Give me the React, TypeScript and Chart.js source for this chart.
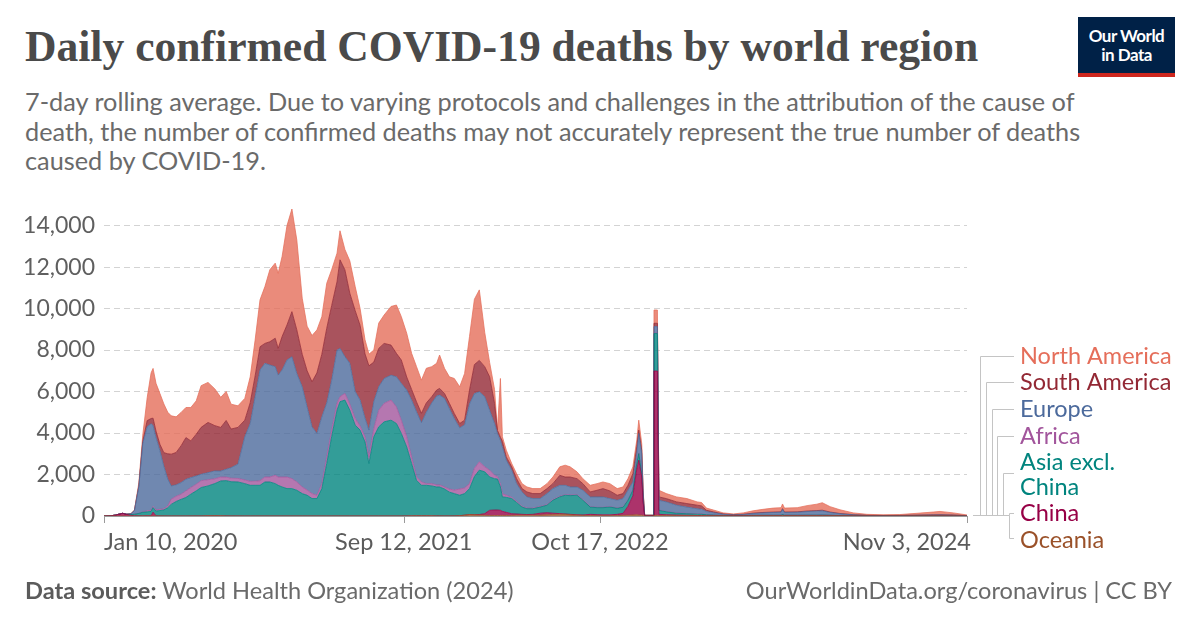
import React, { useEffect, useRef } from 'react';
import { Chart, registerables } from 'chart.js';

Chart.register(...registerables);

// ---------- DATA (7-day rolling average, daily confirmed deaths) ----------
const dates = [
  '2020-01-10','2020-01-24','2020-02-03','2020-02-11','2020-02-17','2020-02-25','2020-03-05','2020-03-12','2020-03-21','2020-03-29',
  '2020-04-07','2020-04-15','2020-04-19','2020-04-25','2020-05-03','2020-05-11','2020-05-19','2020-05-26','2020-06-05','2020-06-15',
  '2020-06-25','2020-07-05','2020-07-16','2020-07-26','2020-08-09','2020-08-23','2020-09-04','2020-09-15','2020-09-25','2020-10-09',
  '2020-10-23','2020-11-03','2020-11-13','2020-11-23','2020-12-03','2020-12-13','2020-12-24','2020-12-30','2021-01-07','2021-01-17',
  '2021-01-27','2021-02-06','2021-02-17','2021-02-27','2021-03-09','2021-03-19','2021-03-29','2021-04-08','2021-04-18','2021-04-29',
  '2021-05-05','2021-05-15','2021-05-25','2021-06-05','2021-06-15','2021-06-25','2021-07-03','2021-07-13','2021-07-23','2021-08-03',
  '2021-08-17','2021-08-28','2021-09-07','2021-09-18','2021-09-28','2021-10-08','2021-10-18','2021-10-28','2021-11-08','2021-11-18',
  '2021-11-24','2021-12-04','2021-12-14','2021-12-24','2022-01-04','2022-01-14','2022-01-24','2022-02-03','2022-02-13','2022-02-24',
  '2022-03-06','2022-03-16','2022-03-22','2022-03-28','2022-04-01','2022-04-09','2022-04-20','2022-04-30','2022-05-11','2022-05-21',
  '2022-06-02','2022-06-17','2022-07-01','2022-07-13','2022-07-27','2022-08-07','2022-08-17','2022-08-31','2022-09-12','2022-09-27',
  '2022-10-11','2022-10-23','2022-11-06','2022-11-21','2022-12-03','2022-12-13','2022-12-23','2022-12-31','2023-01-04','2023-01-10',
  '2023-01-13','2023-01-16','2023-02-02','2023-02-04','2023-02-11','2023-02-14','2023-03-01','2023-03-22','2023-04-12','2023-05-03',
  '2023-05-12','2023-05-22','2023-06-05','2023-06-25','2023-07-16','2023-08-05','2023-08-25','2023-09-14','2023-10-05','2023-10-21',
  '2023-10-24','2023-10-28','2023-11-23','2023-12-13','2024-01-02','2024-01-13','2024-01-29','2024-02-18','2024-03-16','2024-04-13',
  '2024-05-16','2024-06-19','2024-07-24','2024-08-26','2024-09-09','2024-10-06','2024-11-03',
];

const oceania = [
  0,0,0,0,0,0,0,0,0,2, 5,5,5,3,2,1,0,0,0,0, 0,1,2,3,10,15,10,5,2,1,
  0,0,0,0,0,0,0,0,0,0, 0,0,0,0,0,0,0,0,0,0, 0,0,0,0,0,0,0,0,0,0,
  0,0,0,3,8,10,10,10,8,5, 5,3,3,5,15,40,70,60,50,35, 25,20,20,25,25,25,30,40,40,40,
  40,45,60,75,85,80,60,40,30,20, 15,15,15,20,30,40,50,60,50,40, 20,0,0,30,30,20,20,15,15,15,
  12,10,10,8,5,5,8,10,10,10, 10,10,10,10,10,10,10,8,5,3, 3,4,5,5,5,4,2,
];

const china = [
  0,10,50,100,130,80,30,15,5,5, 5,5,180,2,1,1,0,0,0,0, 0,0,0,0,0,0,0,0,0,0,
  0,0,0,0,0,0,0,0,0,0, 0,0,0,0,0,0,0,0,0,0, 0,0,0,0,0,0,0,0,0,0,
  0,0,0,0,0,0,0,0,0,0, 0,0,0,0,0,0,0,5,20,80, 250,270,270,250,200,150,80,60,40,30,
  40,90,100,60,30,20,20,20,20,60, 50,40,40,60,100,430,920,2200,2640,1840, 600,20,20,6960,6960,60,40,30,20,10,
  10,5,5,2,2,2,2,2,2,2, 2,2,2,2,2,2,2,2,1,1, 1,1,1,1,1,1,1,
];

const asiaExclChina = [
  0,0,0,0,0,5,40,70,120,170, 190,210,220,230,260,290,400,560,700,800, 890,1050,1210,1370,1440,1550,1680,1700,1650,1640,
  1560,1480,1480,1480,1640,1640,1560,1480,1400,1320, 1320,1240,1080,1000,840,840,1320,2530,3820,5100, 5510,5590,5100,4380,4140,3570,2530,3820,4300,4540,
  4620,4460,3980,3327,2522,1710,1470,1470,1442,1395, 1395,1297,1147,1075,985,1040,1250,1835,2140,2015, 1605,1510,1490,1125,695,725,730,550,350,280,
  270,295,360,625,805,900,900,940,710,350, 335,345,375,290,290,290,270,280,320,160, 100,5,5,1810,1810,190,140,85,75,65,
  60,40,30,15,10,15,25,25,25,25, 60,25,25,30,30,35,25,15,8,5, 4,5,8,10,10,8,3,
];

const africa = [
  0,0,0,0,0,0,0,2,5,20, 50,60,60,60,60,60,80,250,250,250, 320,320,320,330,300,230,190,170,170,170,
  180,190,200,220,240,240,400,400,480,560, 480,400,320,250,240,160,240,320,320,330, 240,320,300,320,200,250,320,400,800,890,
  970,800,640,490,320,160,160,80,110,100, 100,100,150,170,300,270,240,400,400,240, 330,160,120,150,160,100,60,50,40,30,
  30,30,30,30,30,30,30,30,30,20, 20,20,20,20,20,20,20,20,30,30, 10,0,0,20,20,20,20,20,20,20,
  15,10,5,5,3,3,3,3,3,3, 3,3,3,3,3,3,3,2,1,1, 1,1,1,1,1,1,1,
];

const europe = [
  0,0,0,0,0,5,40,180,1300,3300, 4050,4170,3900,3500,2820,2050,1300,640,550,560, 560,480,400,310,340,380,290,380,510,690,
  2080,2790,4070,5340,5480,5400,5240,4910,5160,5640, 5880,5230,4830,4010,3220,2980,3220,2600,2400,2570, 2330,1770,1960,1300,1250,900,1290,1300,1130,1200,
  1200,1450,1770,2250,2740,3140,2860,3440,3890,4280, 4330,4270,3880,3450,2950,3050,3840,3600,3380,3380, 2890,2500,2080,2100,2250,1690,1310,860,690,540,
  460,380,530,530,530,450,390,370,450,470, 500,500,390,370,400,460,380,480,940,940, 300,10,10,310,310,470,460,370,300,240,
  230,150,110,50,30,45,80,110,130,140, 250,130,140,170,190,200,130,80,40,15, 10,12,20,30,35,25,8,
];

const southAmerica = [
  0,0,0,0,0,0,0,2,10,100, 300,250,350,300,310,650,1220,1530,1560,1770, 2010,1770,2010,2260,2420,2180,2100,2350,1860,1770,
  800,1000,1000,1120,960,1120,1370,1290,1610,1690, 2170,2100,1570,1740,2170,2920,3020,3600,3600,3300, 4270,4190,3380,3900,3600,3100,3100,1900,1850,1690,
  1450,1130,1130,630,510,480,450,450,300,290, 320,240,250,240,210,220,670,1400,1510,1450, 1610,970,150,150,270,160,160,240,160,240,
  240,240,240,240,480,400,480,400,320,240, 320,400,370,240,240,240,400,300,160,160, 60,0,0,160,160,160,160,160,170,170,
  160,60,40,20,15,15,20,20,20,20, 30,20,20,25,25,30,20,15,10,8, 6,6,8,10,10,8,5,
];

const northAmerica = [
  0,0,0,0,0,0,5,10,160,300, 1100,2200,2400,2300,2450,2350,2000,1850,1720,1610, 1450,1610,1610,2010,1930,1770,1450,1400,1200,1040,
  1050,1250,1730,2260,2740,3470,3620,3620,3860,4790, 4950,4330,2700,2150,2230,2070,1810,2170,1730,1370, 1400,980,1560,1160,810,680,560,580,1220,1370,
  1860,2330,2090,2110,1740,1700,1600,1670,1450,1290, 1610,1210,1280,1690,1770,2250,2580,3150,3400,1650, 690,670,20,2830,220,320,160,240,240,240,
  240,240,240,320,410,570,490,330,240,320, 320,320,350,320,320,320,330,330,480,320, 110,5,5,640,640,320,240,240,240,160,
  163,105,90,50,35,65,112,150,190,200, 225,190,200,260,310,360,260,178,85,47, 35,41,87,133,158,103,30,
];

// stack order: bottom first
const seriesNames = ['Oceania', 'China', 'Asia excl. China', 'Africa', 'Europe', 'South America', 'North America'];
const seriesValues = [oceania, china, asiaExclChina, africa, europe, southAmerica, northAmerica];
const seriesColors = ['#9A5129', '#970046', '#00847E', '#A2559C', '#4C6A9C', '#932834', '#E56E5A'];

const yTickValues = [0, 2000, 4000, 6000, 8000, 10000, 12000, 14000];
const xTickDates = ['2020-01-10', '2021-09-12', '2022-10-17', '2024-11-03'];
const xTickLabels = ['Jan 10, 2020', 'Sep 12, 2021', 'Oct 17, 2022', 'Nov 3, 2024'];

const START = Date.UTC(2020, 0, 10);
const dayOf = (s: string) => (Date.parse(s + 'T00:00:00Z') - START) / 86400000;

function rgba(hex: string, a: number) {
  const n = parseInt(hex.slice(1), 16);
  return `rgba(${(n >> 16) & 255},${(n >> 8) & 255},${n & 255},${a})`;
}

// legend (top to bottom order, as in the reference)
const legendEntries = [
  { lines: ['North America'], color: '#E56E5A', y: [356], lineX: 980, hookY: 356 },
  { lines: ['South America'], color: '#932834', y: [382], lineX: 986, hookY: 382 },
  { lines: ['Europe'], color: '#4C6A9C', y: [409], lineX: 992, hookY: 409 },
  { lines: ['Africa'], color: '#A2559C', y: [436], lineX: 997, hookY: 436 },
  { lines: ['Asia excl.', 'China'], color: '#00847E', y: [462, 487], lineX: 1003, hookY: 473 },
  { lines: ['China'], color: '#970046', y: [513], lineX: 1009, hookY: 513 },
  { lines: ['Oceania'], color: '#9A5129', y: [540], lineX: 1009, hookY: 538 },
];

const overlayPlugin = {
  id: 'overlay',
  afterDraw(chart: any) {
    const ctx = chart.ctx;
    const xs = chart.scales.x;
    const area = chart.chartArea;
    ctx.save();
    // x ticks + labels
    xTickDates.forEach((d, i) => {
      const px = xs.getPixelForValue(dayOf(d));
      ctx.strokeStyle = '#9a9a9a';
      ctx.lineWidth = 1;
      ctx.beginPath();
      ctx.moveTo(Math.round(px) + 0.5, area.bottom);
      ctx.lineTo(Math.round(px) + 0.5, area.bottom + 7);
      ctx.stroke();
      ctx.font = '23.5px Lato';
      ctx.fillStyle = '#5b5b5b';
      ctx.textBaseline = 'middle';
      ctx.textAlign = i === 0 ? 'left' : i === xTickDates.length - 1 ? 'right' : 'center';
      ctx.fillText(xTickLabels[i], i === xTickDates.length - 1 ? px + 4 : px, area.bottom + 26);
    });
    // legend connectors
    const baseY = area.bottom - 0.5;
    ctx.strokeStyle = '#c4c4c4';
    ctx.lineWidth = 1;
    ctx.beginPath();
    ctx.moveTo(area.right + 6, baseY);
    ctx.lineTo(1009.5, baseY);
    ctx.stroke();
    legendEntries.forEach((e) => {
      ctx.beginPath();
      ctx.moveTo(e.lineX + 0.5, baseY);
      ctx.lineTo(e.lineX + 0.5, e.hookY + 0.5);
      ctx.lineTo(1014, e.hookY + 0.5);
      ctx.stroke();
    });
    // legend labels
    ctx.font = '23.5px Lato';
    ctx.textAlign = 'left';
    ctx.textBaseline = 'middle';
    legendEntries.forEach((e) => {
      ctx.fillStyle = e.color;
      e.lines.forEach((t, j) => ctx.fillText(t, 1020, e.y[j]));
    });
    ctx.restore();
  },
};

export default function App() {
  const canvasRef = useRef<HTMLCanvasElement>(null);
  const titleRef = useRef<HTMLDivElement>(null);

  useEffect(() => {
    const t = titleRef.current;
    if (t) {
      const w = t.scrollWidth;
      if (w > 0) t.style.transform = `scaleX(${953 / w})`;
    }
    const canvas = canvasRef.current;
    if (!canvas) return;
    const days = dates.map(dayOf);
    const datasets = seriesNames.map((name, i) => ({
      label: name,
      data: seriesValues[i].map((v, k) => ({ x: days[k], y: v })),
      backgroundColor: rgba(seriesColors[i], 0.8),
      borderColor: rgba(seriesColors[i], 0.95),
      borderWidth: 0.8,
      fill: i === 0 ? 'origin' : '-1',
      pointRadius: 0,
      tension: 0,
    }));
    const chart = new Chart(canvas, {
      type: 'line',
      data: { datasets },
      options: {
        responsive: false,
        animation: false,
        devicePixelRatio: 1,
        layout: { padding: { left: 0, right: 233, top: 209, bottom: 112 } },
        plugins: { legend: { display: false }, tooltip: { enabled: false } },
        scales: {
          x: {
            type: 'linear',
            min: 0,
            max: dayOf('2024-11-03'),
            grid: { display: false },
            border: { display: true, color: '#9a9a9a', width: 1 },
            ticks: { display: false },
            afterFit: (s: any) => { s.height = 0; },
          },
          y: {
            stacked: true,
            min: 0,
            max: 14800,
            afterBuildTicks: (s: any) => { s.ticks = yTickValues.map((v) => ({ value: v })); },
            ticks: {
              padding: 9,
              color: '#5f5f5f',
              font: { family: 'Lato', size: 23 },
              callback: (v: any) => Number(v).toLocaleString('en-US'),
            },
            grid: {
              drawTicks: false,
              color: (c: any) => (c.tick && c.tick.value === 0 ? 'rgba(0,0,0,0)' : '#d3d3d3'),
              lineWidth: 1,
            },
            border: { display: false, dash: [6, 4] },
            afterFit: (s: any) => { s.width = 104; },
          },
        },
      },
      plugins: [overlayPlugin],
    } as any);
    return () => chart.destroy();
  }, []);

  return (
    <div style={{ position: 'relative', width: 1200, height: 628, background: '#fff', overflow: 'hidden', fontFamily: 'Lato' }}>
      <style>{'body{margin:0}'}</style>
      <div
        ref={titleRef}
        style={{
          position: 'absolute', left: 25, top: 24, whiteSpace: 'nowrap', transformOrigin: 'left top',
          fontFamily: '"Liberation Serif", serif', fontWeight: 700, fontSize: 45, lineHeight: '45px', color: '#4a4a4a',
        }}
      >
        Daily confirmed COVID-19 deaths by world region
      </div>
      <div
        style={{
          position: 'absolute', left: 25, top: 87, fontSize: 25.3, lineHeight: '29.5px', color: '#6a6a6a', whiteSpace: 'nowrap',
        }}
      >
        7-day rolling average. Due to varying protocols and challenges in the attribution of the cause of<br />
        death, the number of confirmed deaths may not accurately represent the true number of deaths<br />
        caused by COVID-19.
      </div>
      <div
        style={{
          position: 'absolute', left: 1078, top: 17, width: 97, height: 60, background: '#002147', color: '#fff',
          display: 'flex', flexDirection: 'column', alignItems: 'center', justifyContent: 'center', fontSize: 17,
          fontWeight: 700, lineHeight: '19px', letterSpacing: -0.5, boxSizing: 'border-box', paddingBottom: 4,
        }}
      >
        <span>Our World</span>
        <span>in Data</span>
        <div style={{ position: 'absolute', left: 0, bottom: 0, width: 97, height: 4, background: '#CE261E' }} />
      </div>
      <canvas ref={canvasRef} width={1200} height={628} style={{ position: 'absolute', left: 0, top: 0 }} />
      <div style={{ position: 'absolute', left: 25, top: 575, fontSize: 23.6, lineHeight: '30px', color: '#6a6a6a', whiteSpace: 'nowrap' }}>
        <b style={{ color: '#5b5b5b' }}>Data source:</b> World Health Organization (2024)
      </div>
      <div style={{ position: 'absolute', right: 28, top: 575, fontSize: 23.6, lineHeight: '30px', color: '#6a6a6a', whiteSpace: 'nowrap' }}>
        OurWorldinData.org/coronavirus | CC BY
      </div>
    </div>
  );
}
